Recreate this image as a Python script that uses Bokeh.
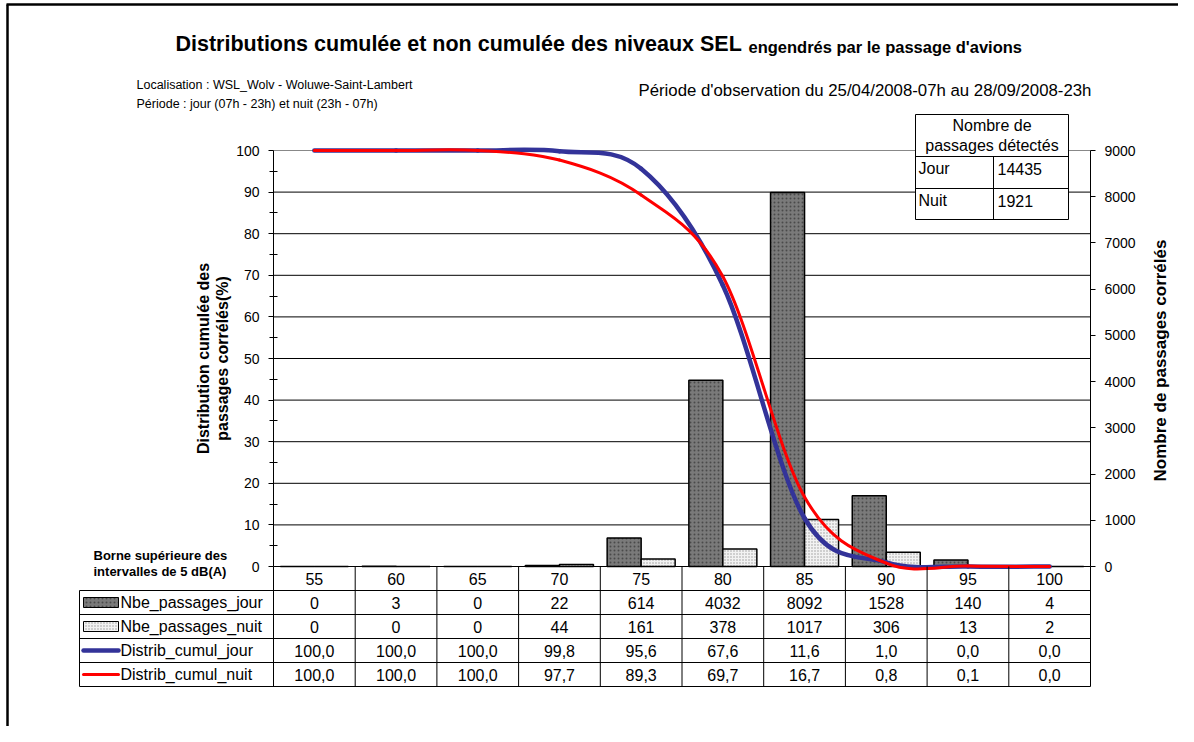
import math
from bokeh.plotting import figure
from bokeh.models import Range1d, LinearAxis, FixedTicker
from bokeh.core.properties import value
from bokeh.embed import file_html
from bokeh.resources import INLINE

# ---------------- data ----------------
categories = ["55", "60", "65", "70", "75", "80", "85", "90", "95", "100"]
nbe_jour = [0, 3, 0, 22, 614, 4032, 8092, 1528, 140, 4]
nbe_nuit = [0, 0, 0, 44, 161, 378, 1017, 306, 13, 2]
cumul_jour = [100.0, 100.0, 100.0, 99.8, 95.6, 67.6, 11.6, 1.0, 0.0, 0.0]
cumul_nuit = [100.0, 100.0, 100.0, 97.7, 89.3, 69.7, 16.7, 0.8, 0.1, 0.0]
pct_ticks = [0, 10, 20, 30, 40, 50, 60, 70, 80, 90, 100]
pct_minor = [5, 15, 25, 35, 45, 55, 65, 75, 85, 95]
count_ticks = [0, 1000, 2000, 3000, 4000, 5000, 6000, 7000, 8000, 9000]
row_labels = ["Nbe_passages_jour", "Nbe_passages_nuit", "Distrib_cumul_jour", "Distrib_cumul_nuit"]
total_labels = ["Jour", "Nuit"]
total_values = [14435, 1921]

# ---------------- layout (picture pixels) ----------------
W, H = 1178, 726
OFF = 0
AX_L, AX_R = 273.0, 1090.0
CAT_W = (AX_R - AX_L) / len(categories)
Y0, Y100 = 566.0, 150.0
PX_PCT = (Y0 - Y100) / 100.0
COUNT_PER_PCT = count_ticks[-1] / pct_ticks[-1]
FONT = value("Liberation Sans")


def dx(px):
    return (px - AX_L) / CAT_W


def dy(py):
    return (Y0 - py) / PX_PCT


p = figure(width=W, height=H, x_range=Range1d(dx(OFF), dx(OFF + W)),
           y_range=Range1d(dy(OFF + H), dy(OFF)),
           x_axis_type=None, y_axis_type=None, min_border=0,
           output_backend="svg", toolbar_location=None)
p.outline_line_color = None
p.background_fill_color = "white"
p.border_fill_color = "white"
p.extra_y_ranges = {"count": Range1d(dy(OFF + H) * COUNT_PER_PCT, dy(OFF) * COUNT_PER_PCT)}


def txt(x, y, s, size, bold=False, align="left", baseline="middle", angle=0.0):
    p.text(x=[x], y=[y], text=[s], text_font=FONT, text_font_size=f"{size}px",
           text_font_style="bold" if bold else "normal", text_align=align,
           text_baseline=baseline, angle=angle, text_color="black")


# outer frame of the picture (left & top)
p.segment(x0=[dx(7), dx(6)], y0=[dy(4), dy(4)], x1=[dx(7), dx(OFF + W)], y1=[dy(OFF + H), dy(4)],
          line_color="black", line_width=2.5)

# ---------------- gridlines ----------------
n = len(categories)
p.segment(x0=[0] * len(pct_ticks), x1=[n] * len(pct_ticks), y0=pct_ticks, y1=pct_ticks,
          line_color=["black"] * (len(pct_ticks) - 1) + ["#888888"], line_width=1)

# ---------------- bars (secondary axis) ----------------
bw = 34.0 / CAT_W
xc = [i + 0.5 for i in range(n)]
p.vbar(x=[x - bw / 2 for x in xc], width=bw, top=nbe_jour, bottom=0, y_range_name="count",
       fill_color="#7a7a7a", line_color="black", line_width=1.5,
       hatch_pattern="dot", hatch_color="#4a4a4a", hatch_scale=4, hatch_weight=1)
p.vbar(x=[x + bw / 2 for x in xc], width=bw, top=nbe_nuit, bottom=0, y_range_name="count",
       fill_color="#f2f2f2", line_color="black", line_width=1.5,
       hatch_pattern="dot", hatch_color="#9a9a9a", hatch_scale=3, hatch_weight=1)


# ---------------- smoothed lines (primary axis) ----------------
def smooth(xs, ys):
    x0s, y0s, x1s, y1s, cx0, cy0, cx1, cy1 = [], [], [], [], [], [], [], []
    m = len(xs)
    for i in range(m - 1):
        a = max(i - 1, 0)
        d = min(i + 2, m - 1)
        x0s.append(xs[i]); y0s.append(ys[i])
        x1s.append(xs[i + 1]); y1s.append(ys[i + 1])
        cx0.append(xs[i] + (xs[i + 1] - xs[a]) / 6.0)
        cy0.append(ys[i] + (ys[i + 1] - ys[a]) / 6.0)
        cx1.append(xs[i + 1] - (xs[d] - xs[i]) / 6.0)
        cy1.append(ys[i + 1] - (ys[d] - ys[i]) / 6.0)
    return dict(x0=x0s, y0=y0s, x1=x1s, y1=y1s, cx0=cx0, cy0=cy0, cx1=cx1, cy1=cy1)


p.bezier(**smooth(xc, cumul_jour), line_color="#333399", line_width=4.5, line_cap="round")
p.bezier(**smooth(xc, cumul_nuit), line_color="#ff0000", line_width=3, line_cap="round")

# ---------------- axes ----------------
ax_l = LinearAxis(fixed_location=0, ticker=FixedTicker(ticks=pct_ticks, minor_ticks=pct_minor),
                  bounds=(0, 100))
ax_r = LinearAxis(fixed_location=n, y_range_name="count",
                  ticker=FixedTicker(ticks=count_ticks, minor_ticks=[]), bounds=(0, count_ticks[-1]))
for ax in (ax_l, ax_r):
    ax.axis_line_color = "black"
    ax.axis_line_width = 1
    ax.major_tick_line_color = "black"
    ax.major_tick_in = 0
    ax.major_tick_out = 5
    ax.major_label_text_font = "Liberation Sans"
    ax.major_label_text_font_size = "14px"
    ax.major_label_text_color = "black"
ax_l.major_label_standoff = 9
ax_r.major_label_standoff = 9
ax_l.minor_tick_line_color = "black"
ax_l.minor_tick_in = 4
ax_l.minor_tick_out = 4
ax_r.minor_tick_line_color = None
p.add_layout(ax_l, "left")
p.add_layout(ax_r, "right")

# ---------------- data table ----------------
row_px = [602.0, 626.0, 650.0, 674.0]
head_px = 578.0
TBL_L = 79.0
hl = [590.0, 614.0, 638.0, 662.0, 686.0]
p.segment(x0=[dx(TBL_L)] * len(hl), x1=[n] * len(hl), y0=[dy(v) for v in hl], y1=[dy(v) for v in hl],
          line_color="black", line_width=1)
p.segment(x0=list(range(n + 1)), x1=list(range(n + 1)), y0=[0] * (n + 1), y1=[dy(686)] * (n + 1),
          line_color="black", line_width=1)
p.segment(x0=[dx(TBL_L)], x1=[dx(TBL_L)], y0=[dy(590)], y1=[dy(686)], line_color="black", line_width=1)

TF = "16px"
p.text(x=xc, y=[dy(head_px)] * n, text=categories, text_font=FONT, text_font_size=TF,
       text_align="center", text_baseline="middle", text_color="black")
rows = [[str(v) for v in nbe_jour], [str(v) for v in nbe_nuit],
        [f"{v:.1f}".replace(".", ",") for v in cumul_jour],
        [f"{v:.1f}".replace(".", ",") for v in cumul_nuit]]
for r, vals in enumerate(rows):
    p.text(x=xc, y=[dy(row_px[r])] * n, text=vals, text_font=FONT, text_font_size=TF,
           text_align="center", text_baseline="middle", text_color="black")
    p.text(x=[dx(120)], y=[dy(row_px[r])], text=[row_labels[r]], text_font=FONT, text_font_size=TF,
           text_align="left", text_baseline="middle", text_color="black")

# legend keys
p.quad(left=[dx(83)], right=[dx(118)], bottom=[dy(row_px[0] + 5)], top=[dy(row_px[0] - 5)],
       fill_color="#7a7a7a", line_color="black", line_width=1,
       hatch_pattern="dot", hatch_color="#4a4a4a", hatch_scale=4)
p.quad(left=[dx(83)], right=[dx(118)], bottom=[dy(row_px[1] + 5)], top=[dy(row_px[1] - 5)],
       fill_color="#f2f2f2", line_color="black", line_width=1,
       hatch_pattern="dot", hatch_color="#9a9a9a", hatch_scale=3)
p.segment(x0=[dx(83)], x1=[dx(118)], y0=[dy(row_px[2])], y1=[dy(row_px[2])],
          line_color="#333399", line_width=4.5, line_cap="round")
p.segment(x0=[dx(83)], x1=[dx(118)], y0=[dy(row_px[3])], y1=[dy(row_px[3])],
          line_color="#ff0000", line_width=3, line_cap="round")

txt(dx(93), dy(555), "Borne supérieure des", 13, bold=True)
txt(dx(93), dy(571), "intervalles de 5 dB(A)", 13, bold=True)

# ---------------- totals box ----------------
BX0, BX1, BXM = 915.0, 1068.0, 993.0
BY0, BY1, BY2, BY3 = 114.0, 156.0, 188.0, 219.0
p.quad(left=[dx(BX0)], right=[dx(BX1)], bottom=[dy(BY3)], top=[dy(BY0)],
       fill_color="white", line_color="black", line_width=1)
p.segment(x0=[dx(BX0), dx(BX0), dx(BXM)], x1=[dx(BX1), dx(BX1), dx(BXM)],
          y0=[dy(BY1), dy(BY2), dy(BY1)], y1=[dy(BY1), dy(BY2), dy(BY3)],
          line_color="black", line_width=1)
txt(dx((BX0 + BX1) / 2), dy(125), "Nombre de", 16, align="center")
txt(dx((BX0 + BX1) / 2), dy(145), "passages détectés", 16, align="center")
for i, (lab, v) in enumerate(zip(total_labels, total_values)):
    yy = dy([168.0, 200.0][i])
    txt(dx(918), yy, lab, 16)
    txt(dx(997), yy, str(v), 16)

# ---------------- titles and labels ----------------
txt(dx(175), dy(43), "Distributions cumulée et non cumulée des niveaux SEL", 21.5, bold=True)
txt(dx(748), dy(46), "engendrés par le passage d'avions", 16.5, bold=True)
txt(dx(136), dy(84), "Localisation : WSL_Wolv - Woluwe-Saint-Lambert", 12.5)
txt(dx(136), dy(103), "Période : jour (07h - 23h) et nuit (23h - 07h)", 12.5)
txt(dx(638), dy(90), "Période d'observation du 25/04/2008-07h au 28/09/2008-23h", 16.8)
txt(dx(203), dy(358), "Distribution cumulée des", 16, bold=True, align="center", angle=math.pi / 2)
txt(dx(222), dy(358), "passages corrélés(%)", 16, bold=True, align="center", angle=math.pi / 2)
txt(dx(1160), dy(360), "Nombre de passages corrélés", 17, bold=True, align="center", angle=math.pi / 2)

open("out.html", "w").write(file_html(p, INLINE))
